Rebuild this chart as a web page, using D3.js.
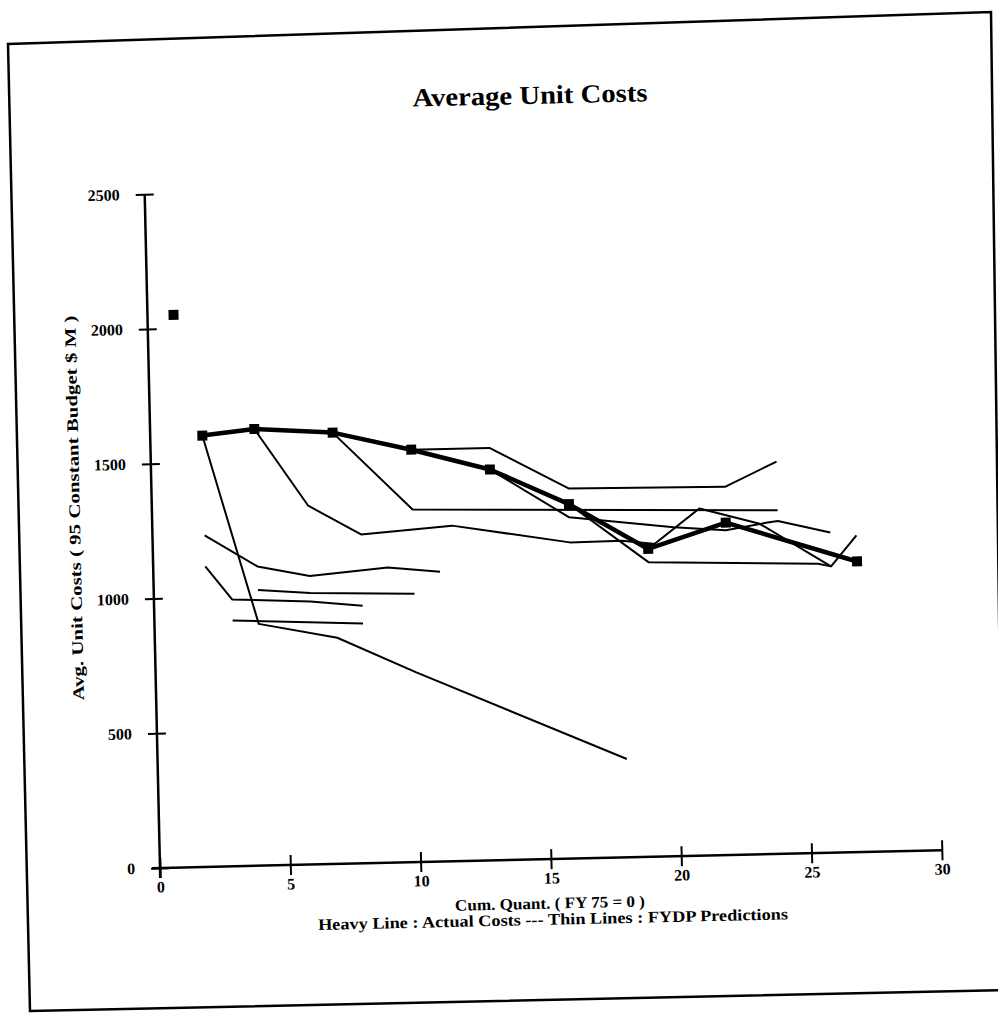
<!DOCTYPE html>
<html><head><meta charset="utf-8">
<script src="https://cdn.jsdelivr.net/npm/d3@7/dist/d3.min.js"></script>
<style>html,body{margin:0;padding:0;background:#fff;} svg{display:block;}</style>
</head><body>
<svg id="chart" width="998" height="1016"></svg>
<script>
// ---- data ----
const xTicks = [0, 5, 10, 15, 20, 25, 30];
const yTicks = [0, 500, 1000, 1500, 2000, 2500];
const actualX = [2, 4, 7, 10, 13, 16, 19, 22, 27];
const actualY = [1600, 1620, 1600, 1530, 1450, 1315, 1142, 1233, 1078];
const isolatedPoint = [1, 2050];
const fydp1 = [[2,1600],[4,897],[7,839],[10,704],[18,365]];
const fydp2 = [[4,1620],[6,1331],[8,1220],[11.5,1245],[16,1173],[18,1175],[19.3,1160]];
const fydp3 = [[7,1600],[10,1308],[24,1275]];
const fydp4 = [[10,1530],[13,1530],[16,1373],[22,1366],[24,1455]];
const fydp5 = [[13,1450],[16,1266],[20,1220],[22,1205],[23.6,1230],[24,1235],[26,1188]];
const fydp6 = [[16,1315],[19,1093],[25.5,1073],[26,1062],[27,1175]];
const fydp7 = [[19,1142],[21,1288],[23.3,1226],[26,1062]];
const early1 = [[2,1230],[4,1110],[6,1070],[9,1095],[11,1075]];
const early2 = [[2,1115],[3,990],[6,976],[8,955]];
const early3 = [[4,1023],[6,1007],[10,996]];
const early4 = [[3,912],[8,890]];
const thinSeries = [fydp1, fydp2, fydp3, fydp4, fydp5, fydp6, fydp7, early1, early2, early3, early4];
const titleText = "Average Unit Costs";
const xTitle1 = "Cum. Quant. ( FY 75 = 0 )";
const xTitle2 = "Heavy Line : Actual Costs --- Thin Lines : FYDP Predictions";
const yTitle = "Avg. Unit Costs ( 95 Constant Budget $ M )";

// ---- layout ----
const OX = 160, OY = 868, ANG = -1.3;
const rad = ANG * Math.PI / 180;
function unrot(px, py) {
  const dx = px - OX, dy = py - OY, c = Math.cos(-rad), s = Math.sin(-rad);
  return [OX + dx * c - dy * s, OY + dx * s + dy * c];
}
const FONT = "'Liberation Serif','Times New Roman',serif";
const svg = d3.select("#chart");

// scanned page frame
svg.append("path")
  .attr("d", "M8,44 L991,12 L1004,990 L30,1011 Z")
  .attr("fill", "none").attr("stroke", "#000").attr("stroke-width", 2.5);

const g = svg.append("g").attr("transform", `rotate(${ANG},${OX},${OY})`);

const x = d3.scaleLinear().domain([0, 30]).range([OX, OX + 782]);
const y = d3.scaleLinear().domain([0, 2500]).range([OY, OY - 674]);

function addText(px, py, txt, size, len) {
  const p = unrot(px, py);
  const t = g.append("text").attr("x", p[0]).attr("y", p[1])
    .attr("text-anchor", "middle").attr("dominant-baseline", "middle")
    .attr("font-family", FONT).attr("font-weight", "bold").attr("font-size", size)
    .text(txt);
  if (len) t.attr("textLength", len).attr("lengthAdjust", "spacingAndGlyphs");
  return t;
}

// title
addText(530, 98, titleText, 26, 235);

// x axis
const xAxis = g.append("g").attr("transform", `translate(0,${OY})`)
  .call(d3.axisBottom(x).tickValues(xTicks).tickSizeOuter(0).tickSize(10).tickPadding(3));
xAxis.select(".domain").attr("stroke-width", 2.5).attr("d", `M${OX-8},0H${x(30)}`);
xAxis.selectAll(".tick line").attr("y1", -10).attr("y2", 10).attr("stroke-width", 2);
xAxis.selectAll(".tick text").attr("font-family", FONT).attr("font-weight", "bold")
  .attr("font-size", 16).attr("dy", "0.71em");

// y axis
const yAxis = g.append("g").attr("transform", `translate(${OX},0)`)
  .call(d3.axisLeft(y).tickValues(yTicks).tickFormat(d3.format("d"))
    .tickSizeOuter(0).tickSize(9).tickPadding(16));
yAxis.select(".domain").attr("stroke-width", 2.5).attr("d", `M0,${y(2500)}V${OY+10}`);
yAxis.selectAll(".tick line").attr("x1", -9).attr("x2", 9).attr("stroke-width", 2);
yAxis.selectAll(".tick text").attr("font-family", FONT).attr("font-weight", "bold")
  .attr("font-size", 16);

// axis titles
addText(550, 905, xTitle1, 16, 190);
addText(553, 921, xTitle2, 16, 470);
const yp = unrot(76, 508);
g.append("text").attr("transform", `translate(${yp[0]},${yp[1]}) rotate(-90)`)
  .attr("text-anchor", "middle").attr("dominant-baseline", "middle")
  .attr("font-family", FONT).attr("font-weight", "bold").attr("font-size", 16)
  .attr("textLength", 385).attr("lengthAdjust", "spacingAndGlyphs")
  .text(yTitle);

// thin lines (FYDP predictions)
const line = d3.line().x(d => x(d[0])).y(d => y(d[1]));
g.append("g").selectAll("path").data(thinSeries).join("path")
  .attr("d", line).attr("fill", "none").attr("stroke", "#000")
  .attr("stroke-width", 2).attr("stroke-linejoin", "round");

// heavy line (actual costs)
const actual = actualX.map((v, i) => [v, actualY[i]]);
g.append("path").datum(actual).attr("d", line).attr("fill", "none")
  .attr("stroke", "#000").attr("stroke-width", 4.5).attr("stroke-linejoin", "round");
const ms = 10;
g.append("g").selectAll("rect").data(actual.concat([isolatedPoint])).join("rect")
  .attr("x", d => x(d[0]) - ms / 2).attr("y", d => y(d[1]) - ms / 2)
  .attr("width", ms).attr("height", ms).attr("fill", "#000");
</script>
</body></html>
